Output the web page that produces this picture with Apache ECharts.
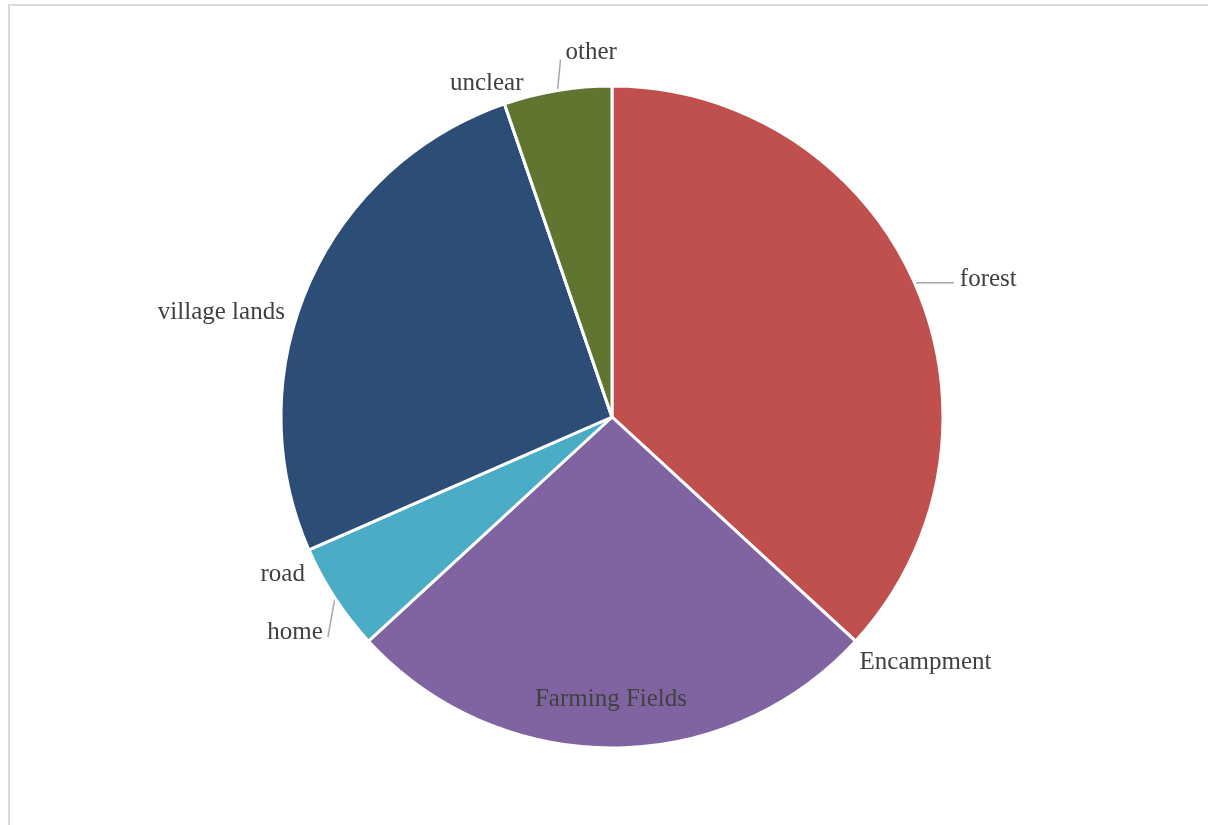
<!DOCTYPE html>
<html>
<head>
<meta charset="utf-8">
<script src="https://cdn.jsdelivr.net/npm/echarts@6/dist/echarts.min.js"></script>
<style>
html,body{margin:0;padding:0;background:#ffffff;}
#chart{width:1208px;height:825px;}
</style>
</head>
<body>
<div id="chart"></div>
<script>
// ---- data ----
const categories = ['forest', 'Encampment', 'Farming Fields', 'home', 'road', 'village lands', 'unclear', 'other'];
const values = [7, 0, 5, 1, 0, 5, 0, 1];

// ---- styles ----
const sliceColors = ['#C0504D', '#9BBB59', '#8064A2', '#4BACC6', '#F79646', '#2C4D75', '#772C2A', '#5F7530'];
const labelFont = { fontFamily: 'Liberation Serif', fontSize: 25, color: '#404040' };
// label nudges relative to the anchor ECharts computes, plus leader-line direction
const labelTweaks = {
  'forest':         { dx: 1,   dy: -3,  len: 3, len2: 36, showLine: true },
  'Encampment':     { dx: -1,  dy: 21,  showLine: false },
  'Farming Fields': { dx: -1,  dy: 114, inside: true },
  'home':           { dx: -7,  dy: 34,  showLine: true, line: [-7, 39] },
  'road':           { dx: 1,   dy: 24,  showLine: false },
  'village lands':  { dx: -19, dy: 28,  showLine: false },
  'unclear':        { dx: 24,  dy: -20, showLine: false },
  'other':          { dx: 13,  dy: -38, showLine: true, line: [3, -31], align: 'left' }
};

const seriesData = categories.map(function (name, i) {
  const t = labelTweaks[name];
  const item = {
    name: name,
    value: values[i],
    itemStyle: { color: sliceColors[i] },
    labelLine: { show: !!t.showLine, length: t.len || 0, length2: t.len2 || 0 }
  };
  if (t.inside) {
    item.label = { position: 'inside' };
  }
  return item;
});

const chart = echarts.init(document.getElementById('chart'), null, { renderer: 'canvas' });
chart.setOption({
  backgroundColor: '#ffffff',
  animation: false,
  graphic: [{
    type: 'rect',
    shape: { x: 9, y: 5, width: 1400, height: 1000 },
    style: { fill: 'none', stroke: '#D9D9D9', lineWidth: 2 },
    silent: true,
    z: -10
  }],
  series: [{
    type: 'pie',
    center: [612, 417],
    radius: 331,
    startAngle: 90,
    clockwise: true,
    avoidLabelOverlap: false,
    minShowLabelAngle: 0,
    itemStyle: { borderColor: '#ffffff', borderWidth: 3 },
    label: Object.assign({ show: true, position: 'outside', formatter: '{b}' }, labelFont),
    labelLine: { show: true, length: 0, length2: 0, smooth: false,
                 lineStyle: { color: '#A6A6A6', width: 1.5 } },
    emphasis: { disabled: true },
    labelLayout: function (p) {
      const name = categories[p.dataIndex];
      const t = labelTweaks[name];
      const r = p.labelRect;
      const align = p.align || (t.inside ? 'center' : 'left');
      const ax = align === 'right' ? r.x + r.width : (align === 'left' ? r.x : r.x + r.width / 2);
      const ay = r.y + r.height / 2;
      const out = { x: ax + t.dx, y: ay + t.dy, align: t.align || align, verticalAlign: 'middle' };
      if (p.labelLinePoints && p.labelLinePoints.length) {
        const p0 = p.labelLinePoints[0];
        if (t.line) {
          out.labelLinePoints = [[p0[0], p0[1]], [p0[0] + t.line[0], p0[1] + t.line[1]]];
        } else {
          out.labelLinePoints = p.labelLinePoints.map(function (q) { return [q[0], q[1]]; });
        }
      }
      return out;
    },
    data: seriesData
  }]
});
</script>
</body>
</html>
